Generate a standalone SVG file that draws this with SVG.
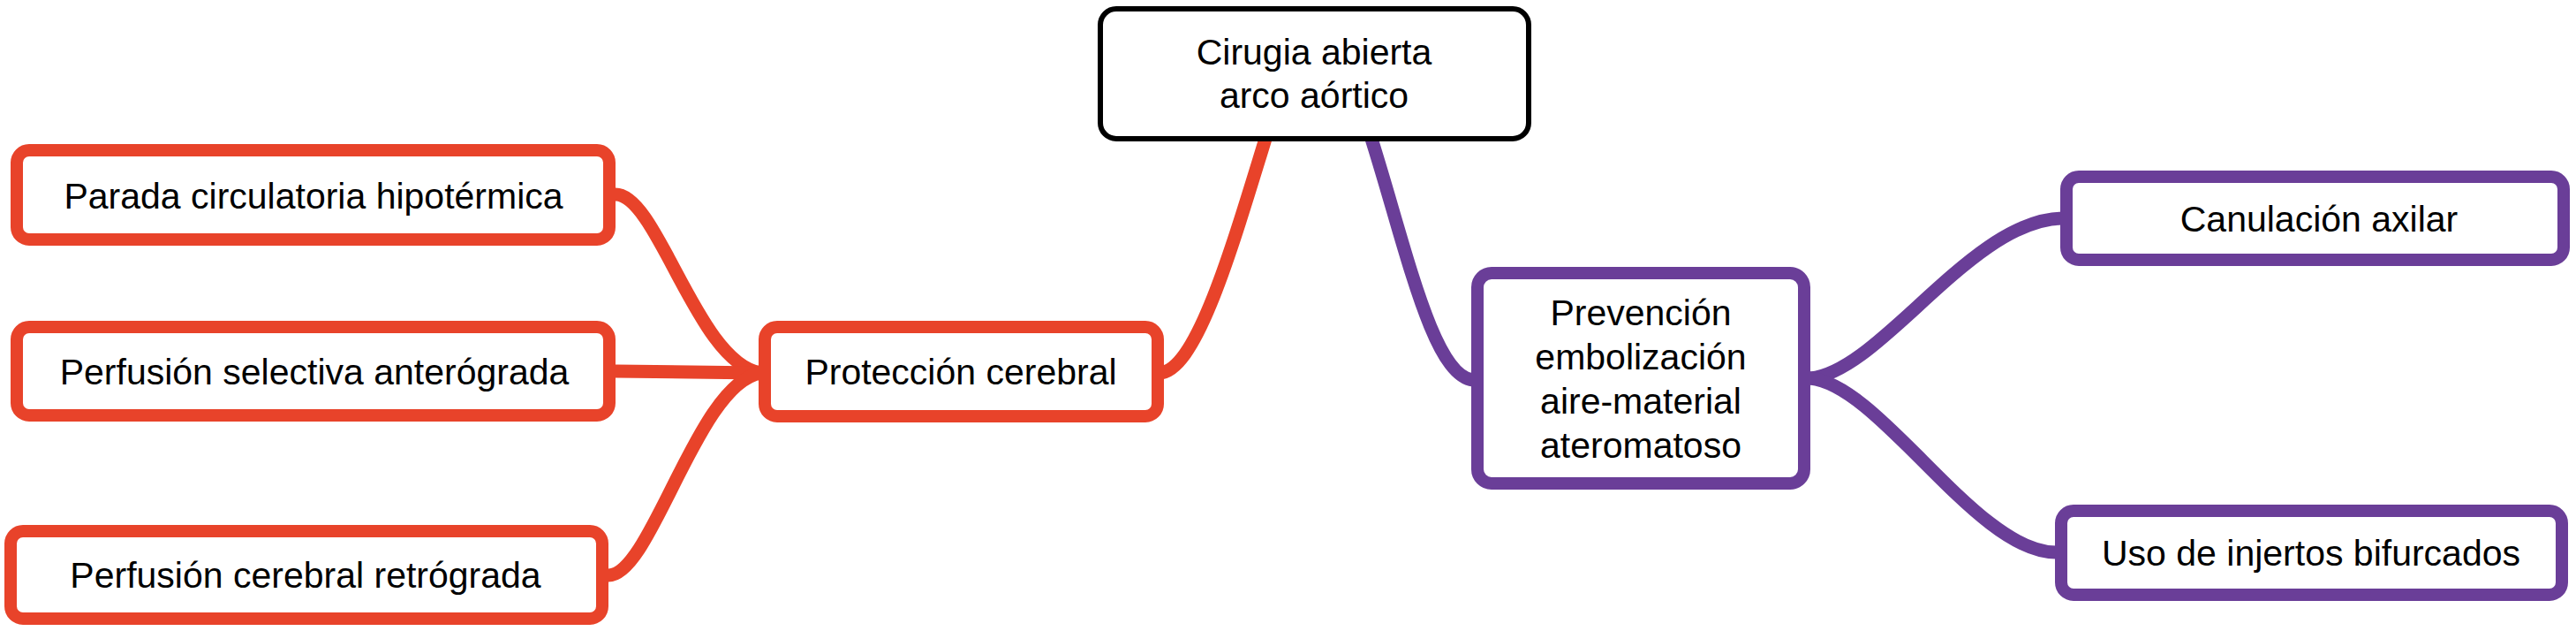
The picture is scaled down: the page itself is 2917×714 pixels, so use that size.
<svg xmlns="http://www.w3.org/2000/svg" width="2917" height="714" viewBox="0 0 2917 714">
<style>
.bx{fill:#fff;stroke-width:14}
.red{stroke:#E8432A}
.pur{stroke:#6A3E98}
.root{fill:#fff;stroke:#000;stroke-width:6}
.c{fill:none;stroke-width:15;stroke-linecap:round}
text{font-family:"Liberation Sans",Arial,Helvetica,sans-serif;font-size:41px;fill:#000;text-anchor:middle}
</style>
<rect width="2917" height="714" fill="#fff"/>
<g id="connectors">
<path class="c red" d="M1433,157 C1395,280 1355,420 1313,422"/>
<path class="c red" d="M697,220 C745,220 790,412 862,422"/>
<path class="c red" d="M697,420 L862,422"/>
<path class="c red" d="M689,651 C738,651 790,432 862,422"/>
<path class="c pur" d="M1553,157 C1592,280 1622,425 1668,430"/>
<path class="c pur" d="M2050,428 C2130,420 2232,249 2335,247"/>
<path class="c pur" d="M2050,428 C2130,436 2238,625 2328,625"/>
</g>
<g id="n-root">
<rect class="root" x="1246" y="10" width="485" height="147" rx="18"/>
<text x="1488" y="73">Cirugia abierta</text>
<text x="1488" y="122">arco aórtico</text>
</g>
<g id="n-parada">
<rect class="bx red" x="19" y="170" width="671" height="101" rx="14"/>
<text x="355" y="236">Parada circulatoria hipotérmica</text>
</g>
<g id="n-perfsel">
<rect class="bx red" x="19" y="370" width="671" height="100" rx="14"/>
<text x="356" y="435">Perfusión selectiva anterógrada</text>
</g>
<g id="n-perfcer">
<rect class="bx red" x="12" y="601" width="670" height="99" rx="14"/>
<text x="346" y="665">Perfusión cerebral retrógrada</text>
</g>
<g id="n-proteccion">
<rect class="bx red" x="866" y="370" width="445" height="101" rx="14"/>
<text x="1088" y="435">Protección cerebral</text>
</g>
<g id="n-prevencion">
<rect class="bx pur" x="1673" y="309" width="370" height="238" rx="16"/>
<text x="1858" y="368">Prevención</text>
<text x="1858" y="418">embolización</text>
<text x="1858" y="468">aire-material</text>
<text x="1858" y="518">ateromatoso</text>
</g>
<g id="n-canulacion">
<rect class="bx pur" x="2340" y="200" width="563" height="94" rx="14"/>
<text x="2626" y="262">Canulación axilar</text>
</g>
<g id="n-uso">
<rect class="bx pur" x="2334" y="578" width="567" height="95" rx="14"/>
<text x="2617" y="640">Uso de injertos bifurcados</text>
</g>
</svg>
